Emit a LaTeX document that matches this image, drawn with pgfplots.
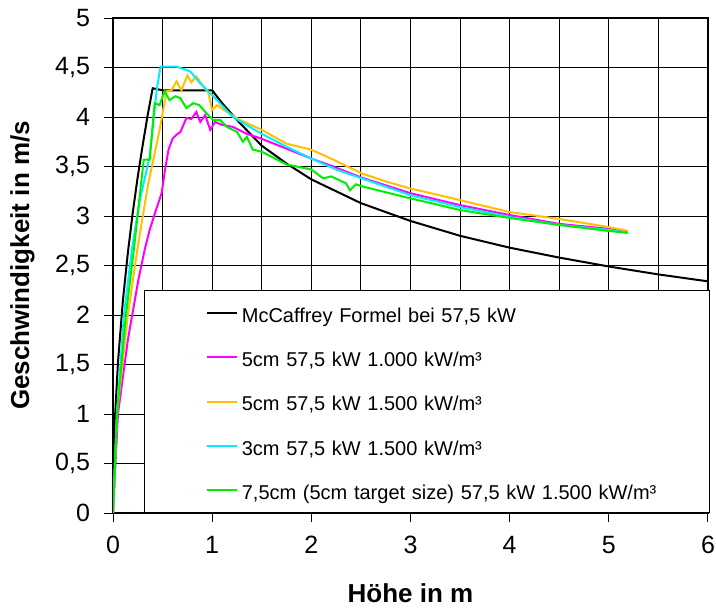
\documentclass[border=0pt]{standalone}
\usepackage{fontspec}
\setmainfont{Liberation Sans}
\usepackage{pgfplots}
\usepackage{pgfplotstable}
\pgfplotsset{compat=1.18}
\definecolor{cMag}{RGB}{255,0,255}
\definecolor{cYel}{RGB}{255,192,0}
\definecolor{cCya}{RGB}{0,238,255}
\definecolor{cGrn}{RGB}{0,238,0}

% McCaffrey
\pgfplotstableread{
x y
0 0
0.02 0.96
0.05 1.52
0.1 2.15
0.15 2.63
0.2 3.04
0.25 3.40
0.3 3.72
0.35 4.02
0.4 4.29
0.5 4.27
1.0 4.27
1.1 4.14
1.25 3.97
1.5 3.71
1.75 3.53
2.0 3.37
2.25 3.25
2.5 3.13
2.75 3.04
3.0 2.95
3.5 2.80
4.0 2.68
4.5 2.58
5.0 2.49
5.5 2.41
6.0 2.34
}\tabMcC
% 5cm 1000
\pgfplotstableread{
x y
0 0
0.05 1.0
0.15 1.75
0.255 2.35
0.32 2.66
0.37 2.86
0.43 3.05
0.49 3.23
0.53 3.50
0.56 3.67
0.60 3.78
0.64 3.82
0.68 3.85
0.74 3.99
0.79 3.98
0.84 4.05
0.88 3.95
0.93 4.02
0.98 3.87
1.03 3.95
1.1 3.92
1.21 3.90
1.35 3.83
1.5 3.78
1.75 3.68
2.0 3.58
2.22 3.50
2.5 3.39
3.0 3.23
3.5 3.11
4.0 3.01
4.5 2.92
5.0 2.87
5.19 2.84
}\tabMag
% 5cm 1500
\pgfplotstableread{
x y
0 0
0.04 1.0
0.15 2.0
0.245 2.66
0.35 3.3
0.47 3.87
0.54 4.26
0.59 4.27
0.64 4.36
0.69 4.27
0.75 4.42
0.79 4.35
0.84 4.41
0.91 4.31
0.96 4.25
1.0 4.07
1.05 4.12
1.15 4.05
1.28 3.97
1.5 3.87
1.75 3.73
2.0 3.67
2.22 3.57
2.51 3.43
2.75 3.35
2.99 3.28
3.25 3.22
3.5 3.16
4.0 3.04
4.5 2.97
4.99 2.89
5.19 2.85
}\tabYel
% 3cm 1500
\pgfplotstableread{
x y
0 0
0.04 1.0
0.11 2.0
0.19 2.66
0.27 3.16
0.37 3.60
0.44 4.27
0.48 4.51
0.64 4.51
0.78 4.46
0.88 4.34
1.01 4.21
1.21 4.00
1.5 3.83
1.75 3.70
2.0 3.58
2.25 3.47
2.51 3.38
3.0 3.21
3.5 3.09
4.0 2.99
4.5 2.91
5.0 2.86
5.19 2.83
}\tabCya
% 7,5cm 1500
\pgfplotstableread{
x y
0 0
0.04 1.0
0.13 2.0
0.21 2.66
0.31 3.57
0.37 3.57
0.42 4.14
0.47 4.12
0.52 4.26
0.57 4.17
0.63 4.21
0.68 4.19
0.74 4.09
0.81 4.14
0.87 4.12
0.94 4.04
1.01 3.97
1.08 3.97
1.15 3.90
1.25 3.85
1.31 3.75
1.35 3.80
1.41 3.67
1.5 3.65
1.75 3.52
2.0 3.47
2.12 3.38
2.2 3.40
2.35 3.33
2.39 3.26
2.45 3.32
2.51 3.30
2.75 3.24
2.99 3.18
3.25 3.12
3.5 3.06
4.0 2.98
4.5 2.91
4.99 2.85
5.19 2.83
}\tabGrn

\begin{document}
\begin{tikzpicture}
\useasboundingbox (-56.5pt,-47pt) rectangle (301.5pt,256.5pt);
\begin{axis}[
  scale only axis, width=297.5pt, height=247.5pt,
  xmin=0, xmax=6, ymin=0, ymax=5,
  xtick={0,...,6}, minor xtick={0.5,1.5,2.5,3.5,4.5,5.5},
  ytick={0,0.5,...,5},
  xmajorgrids, ymajorgrids, xminorgrids,
  grid style={black, line width=0.5pt},
  major grid style={black, line width=0.5pt},
  minor grid style={black, line width=0.5pt},
  axis line style={black, line width=0.6pt},
  tick align=outside, xtick pos=left, ytick pos=left,
  major tick length=4.5pt, minor tick length=0pt,
  tick style={black, line width=0.5pt},
  ticklabel style={font=\fontsize{12.5}{14}\selectfont},
  /pgf/number format/use comma,
  /pgf/number format/1000 sep={},
  /pgf/number format/assume math mode=true,
  yticklabel style={xshift=-3.5pt},
  xticklabel style={yshift=-3.5pt},
  xlabel={Höhe in m},
  ylabel={Geschwindigkeit in m/s},
  label style={font=\bfseries\fontsize{13}{15}\selectfont},
  xlabel style={at={(axis description cs:0.5,-0.129)}, anchor=north},
  ylabel style={at={(axis description cs:-0.120,0.5)}, anchor=south},
  legend cell align=left,
  legend style={at={(0.052,0)}, anchor=south west, draw=black,
    line width=0.5pt, fill=white, inner xsep=0pt, inner ysep=1pt,
    row sep=2pt, column sep=0pt, font=\fontsize{10}{12}\selectfont,
    nodes={text width=232pt, align=left, inner xsep=1.7pt, inner ysep=3pt,
      text height=11.8pt, text depth=2.4pt}},
  legend image code/.code={\path (0pt,0pt); \draw[#1] (31pt,0pt) -- (46pt,0pt);},
  every axis plot/.append style={line width=1pt},
]
\addplot[black] table[x=x,y=y] {\tabMcC};
\addlegendentry{McCaffrey Formel bei 57,5 kW}
\addplot[cMag] table[x=x,y=y] {\tabMag};
\addlegendentry{5cm 57,5 kW 1.000 kW/m³}
\addplot[cYel] table[x=x,y=y] {\tabYel};
\addlegendentry{5cm 57,5 kW 1.500 kW/m³}
\addplot[cCya] table[x=x,y=y] {\tabCya};
\addlegendentry{3cm 57,5 kW 1.500 kW/m³}
\addplot[cGrn] table[x=x,y=y] {\tabGrn};
\addlegendentry{7,5cm (5cm target size) 57,5 kW 1.500 kW/m³}
\end{axis}
\end{tikzpicture}
\end{document}
